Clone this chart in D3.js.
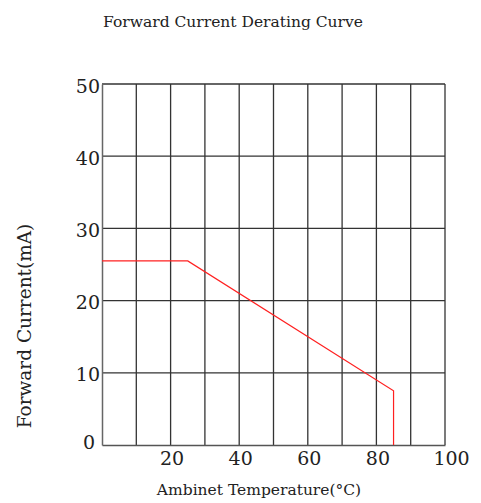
<!DOCTYPE html>
<html>
<head>
<meta charset="utf-8">
<script src="https://cdn.jsdelivr.net/npm/d3@7"></script>
<style>
  body { margin: 0; background: #fff; }
  text { font-family: "DejaVu Serif", serif; fill: #222; }
</style>
</head>
<body>
<svg width="481" height="503"></svg>
<script>
// derating curve
var temps = [0, 25, 85, 85];
var currents = [25.5, 25.5, 7.5, 0];
var xTicks = [20, 40, 60, 80, 100];
var yTicks = [0, 10, 20, 30, 40, 50];

var svg = d3.select('svg'),
  margin = {top: 84, right: 36, bottom: 58, left: 102},
  width = +svg.attr('width') - margin.left - margin.right,
  height = +svg.attr('height') - margin.top - margin.bottom;

var x = d3.scaleLinear().domain([0, 100]).range([0, width]),
    y = d3.scaleLinear().domain([0, 50]).range([height, 0]);

var g = svg.append('g')
  .attr('transform', 'translate(' + margin.left + ',' + margin.top + ')');

// grid every 10
g.append('g')
  .selectAll('line')
  .data(d3.range(10, 101, 10))
  .enter().append('line')
  .attr('x1', function(d) { return x(d); })
  .attr('x2', function(d) { return x(d); })
  .attr('y1', 0).attr('y2', height)
  .attr('stroke', '#333').attr('stroke-width', 1.3);

g.append('g')
  .selectAll('line')
  .data(d3.range(10, 51, 10))
  .enter().append('line')
  .attr('y1', function(d) { return y(d); })
  .attr('y2', function(d) { return y(d); })
  .attr('x1', 0).attr('x2', width)
  .attr('stroke', '#333').attr('stroke-width', 1.3);

var xAxis = g.append('g')
  .attr('transform', 'translate(0,' + height + ')')
  .call(d3.axisBottom(x).tickValues(xTicks).tickSize(0).tickPadding(7));
xAxis.select('.domain').attr('stroke', '#555').attr('stroke-width', 1.5);
xAxis.selectAll('text')
  .attr('font-size', 19).attr('font-family', '"DejaVu Serif", serif').attr('fill', '#222')
  .attr('dx', function(d) { return d === 100 ? 6 : 1; });

var yAxis = g.append('g')
  .call(d3.axisLeft(y).tickValues(yTicks).tickSize(0).tickPadding(2));
yAxis.select('.domain').attr('stroke', '#666').attr('stroke-width', 1.5);
yAxis.selectAll('text')
  .attr('font-size', 19).attr('font-family', '"DejaVu Serif", serif').attr('fill', '#222')
  .attr('transform', function(d) { return d === 0 ? 'translate(-5,-3)' : 'translate(0,2)'; });

// derating line
var line = d3.line()
  .x(function(d) { return x(d[0]); })
  .y(function(d) { return y(d[1]); });

g.append('path')
  .datum(d3.zip(temps, currents))
  .attr('d', line)
  .attr('fill', 'none')
  .attr('stroke', '#ff2020')
  .attr('stroke-width', 1.2);

svg.append('text')
  .attr('x', 233).attr('y', 27)
  .attr('text-anchor', 'middle')
  .attr('font-size', 15.5)
  .text('Forward Current Derating Curve');

svg.append('text')
  .attr('x', 259).attr('y', 495)
  .attr('text-anchor', 'middle')
  .attr('font-size', 15.5)
  .text('Ambinet Temperature(°C)');

svg.append('text')
  .attr('transform', 'translate(31,326) rotate(-90)')
  .attr('text-anchor', 'middle')
  .attr('font-size', 18.5)
  .text('Forward Current(mA)');
</script>
</body>
</html>
